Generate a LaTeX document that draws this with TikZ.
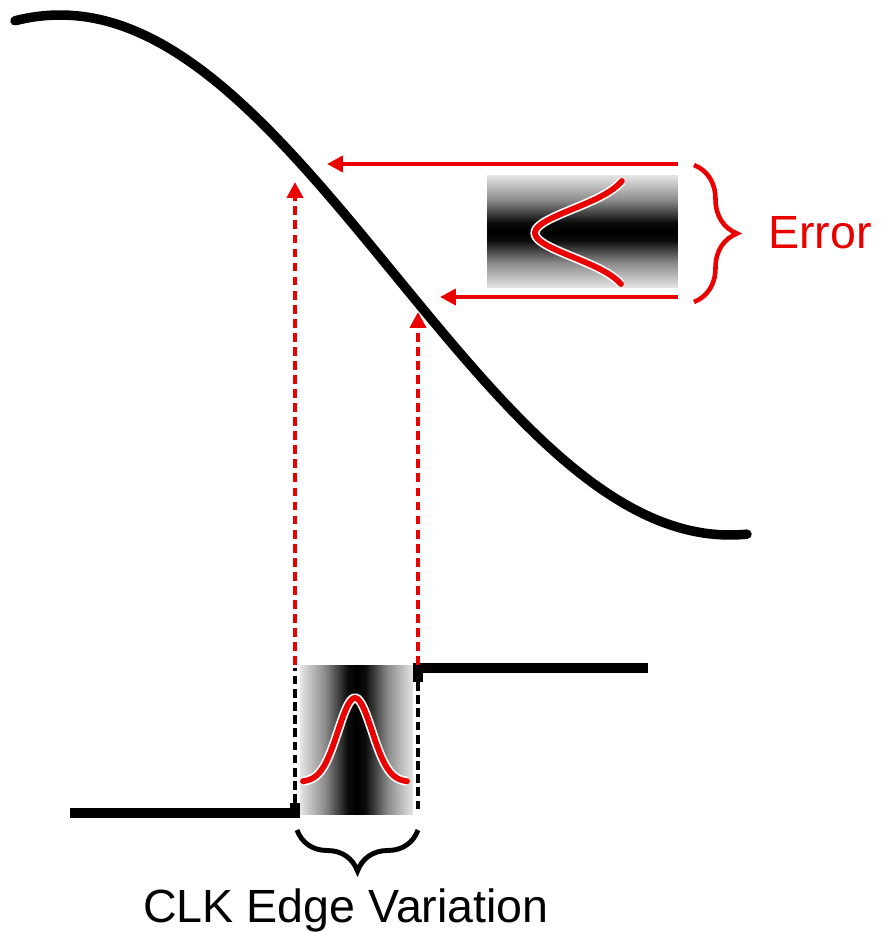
\documentclass[tikz,border=0pt]{standalone}
\usepackage{fontspec}
\setmainfont{Liberation Sans}
\usepackage{tikz}
\usetikzlibrary{arrows.meta,decorations.pathreplacing}
\definecolor{errred}{RGB}{235,0,0}
\pgfdeclareverticalshading{errshade}{100bp}{color(0bp)=(black!10); color(25bp)=(black!10); color(36bp)=(black!45); color(46bp)=(black!95); color(50bp)=(black); color(54bp)=(black!95); color(64bp)=(black!45); color(75bp)=(black!10); color(100bp)=(black!10)}
\pgfdeclarehorizontalshading{clkshade}{100bp}{color(0bp)=(black!10); color(25bp)=(black!10); color(36bp)=(black!45); color(46bp)=(black!95); color(50bp)=(black); color(54bp)=(black!95); color(64bp)=(black!45); color(75bp)=(black!10); color(100bp)=(black!10)}

\begin{document}
\begin{tikzpicture}[x=0.02cm, y=-0.02cm,
  wave/.style={line width=5.4pt, line cap=round},
  signal/.style={line width=5.2pt},
  ray/.style={draw=errred, line width=2.3pt, -{Triangle[length=9pt,width=9pt]}},
  probe/.style={ray, dash pattern=on 5pt off 3pt},
  edgeline/.style={line width=2.4pt, dash pattern=on 5pt off 2.5pt},
  pdf/.style={draw=errred, line width=3.3pt, line cap=round, preaction={draw=white, line width=5.2pt}},
  fuzz/.style={inner sep=0pt, outer sep=0pt, draw=none},
  lbl/.style={inner sep=0pt, font=\fontsize{26.5}{32}\selectfont}
]
\useasboundingbox (0,0) rectangle (881,932);
% transfer curve
\draw[wave] plot[domain=15:747, samples=120, smooth] (\x, {275 - 260*cos((\x-60)/670*180)});
% clock signal
\draw[signal] (70,813) -- (295,813) -- (295,803);
\draw[signal] (418,682) -- (418,668) -- (648,668);
\node[fuzz, shading=clkshade, minimum width=2.26cm, minimum height=3cm] (clkbox) at (356.5,740) {};
\draw[edgeline] (295,803) -- (295,668);
\draw[edgeline] (418,682) -- (418,813);
\draw[pdf] plot[domain=303:407, samples=60] (\x, {782 - 84*exp(-((\x-355)/17)^2/2)});
% error distribution
\node[fuzz, shading=errshade, minimum width=3.82cm, minimum height=2.26cm] (errbox) at (582.5,231.5) {};
\draw[pdf] plot[domain=181:284, samples=60] ({631 - 96*exp(-((\x-233)/24)^2/2)}, \x);
% projections
\coordinate (edgeA) at (295,665); \coordinate (tipA) at (295,182);
\coordinate (edgeB) at (418,665); \coordinate (tipB) at (418,312);
\coordinate (srcA) at (678,164); \coordinate (hitA) at (327,164);
\coordinate (srcB) at (678,297); \coordinate (hitB) at (440,297);
\draw[probe] (edgeA) -- (tipA);
\draw[probe] (edgeB) -- (tipB);
\draw[ray] (srcA) -- (hitA);
\draw[ray] (srcB) -- (hitB);
% braces and labels
\draw[errred, line width=2.6pt, decorate, decoration={brace, amplitude=0.86cm}] (694,165) -- (694,302);
\node[lbl, text=errred, anchor=west] (errlbl) at (768,233) {Error};
\draw[line width=2.8pt, decorate, decoration={brace, amplitude=0.82cm}] (418,830) -- (297,830);
\node[lbl, anchor=base] (clklbl) at (346,922) {CLK Edge Variation};
\end{tikzpicture}
\end{document}
